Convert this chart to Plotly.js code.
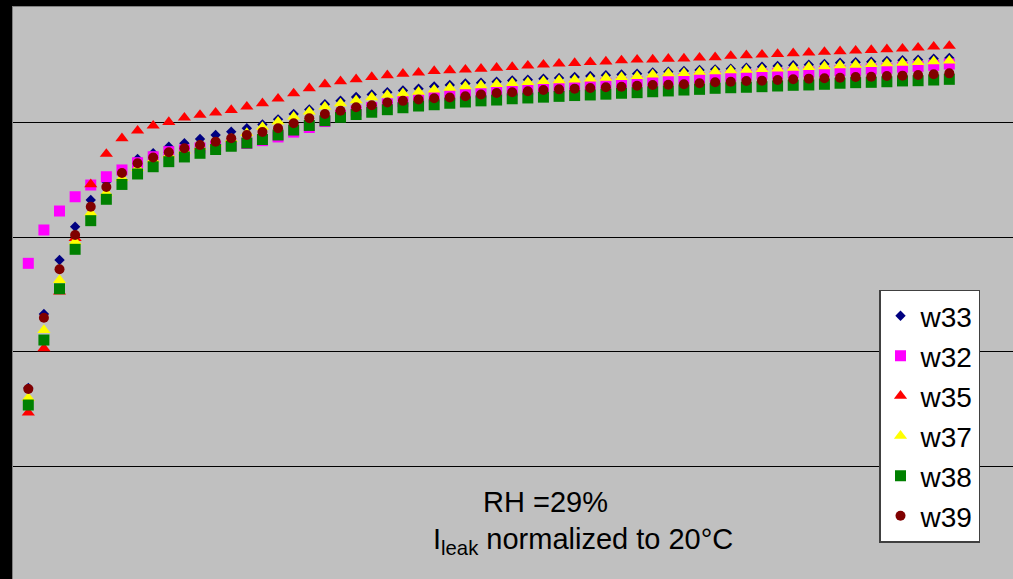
<!DOCTYPE html>
<html>
<head>
<meta charset="utf-8">
<script src="https://cdn.plot.ly/plotly-3.0.1.min.js"></script>
<style>
  html, body { margin: 0; padding: 0; background: #000; }
  #chart { width: 1013px; height: 579px; }
</style>
</head>
<body>
<div id="chart"></div>
<script>
// measurement index (x)
const xIdx = [1,2,3,4,5,6,7,8,9,10,11,12,13,14,15,16,17,18,19,20,
  21,22,23,24,25,26,27,28,29,30,31,32,33,34,35,36,37,38,39,40,
  41,42,43,44,45,46,47,48,49,50,51,52,53,54,55,56,57,58,59,60];

const w33 = [168.7,233.0,280.0,309.0,332.2,348.1,356.5,367.8,372.8,378.5,
  381.5,385.2,388.7,391.6,394.5,397.8,402.3,407.0,410.9,415.4,
  418.5,421.7,423.9,425.9,427.4,428.9,430.9,432.2,433.5,434.1,
  435.0,436.1,436.8,437.6,438.3,439.1,440.0,440.7,441.3,442.0,
  443.0,443.7,444.3,445.2,445.8,446.3,447.2,448.1,448.7,449.3,
  449.8,450.4,451.6,451.9,452.4,453.0,453.7,454.2,455.0,455.7];

const w32 = [277.1,306.1,322.6,335.0,345.2,352.4,358.3,364.6,369.8,374.2,
  375.7,377.4,379.1,380.0,381.3,383.8,387.0,391.2,395.2,400.4,
  405.7,409.6,412.6,415.7,417.8,420.0,421.7,423.0,425.0,425.5,
  426.3,427.2,428.4,429.3,430.7,431.3,432.2,433.7,434.2,435.0,
  435.9,437.0,437.8,438.7,439.4,440.0,440.9,441.7,442.3,442.9,
  443.5,444.1,444.8,445.2,446.1,446.7,447.6,448.4,449.3,450.4];

const w35 = [147.2,203.2,252.4,299.1,345.8,372.2,385.8,392.4,396.8,400.0,
  403.7,406.1,408.1,410.4,413.3,416.3,420.3,424.8,429.3,432.8,
  435.4,437.1,439.1,440.6,441.9,442.9,444.3,445.0,445.5,446.3,
  447.1,447.8,449.0,449.8,450.7,451.3,452.0,452.6,453.5,454.2,
  454.3,455.0,455.2,455.9,456.3,457.4,458.0,458.5,459.1,459.7,
  460.3,460.9,461.5,462.0,462.6,463.2,463.7,464.6,465.5,466.1];

const w37 = [160.0,219.1,262.6,295.9,320.9,338.3,351.3,360.0,367.4,371.7,
  375.2,378.3,381.3,385.2,390.4,395.7,400.3,404.6,409.0,413.3,
  416.1,418.9,421.5,423.5,425.0,426.3,428.1,429.7,431.0,431.9,
  432.9,433.9,434.6,435.5,436.3,436.8,437.7,438.4,439.1,439.8,
  441.3,442.2,442.6,443.5,444.1,444.8,445.4,445.9,446.5,447.1,
  447.8,448.4,449.3,449.7,450.3,450.9,451.5,452.0,452.8,453.3];

const w38 = [153.9,210.4,255.0,289.3,314.2,332.8,345.7,354.8,361.1,365.5,
  369.6,372.8,376.1,378.9,381.7,384.8,388.7,393.0,397.0,401.1,
  404.1,406.5,408.5,410.7,412.4,413.9,415.0,416.3,417.4,418.4,
  419.1,420.2,420.9,421.6,422.3,423.0,423.5,424.2,425.0,425.5,
  426.3,427.0,427.8,428.4,429.3,429.8,430.2,430.7,431.3,431.9,
  432.2,432.8,433.7,434.2,434.5,435.0,435.7,435.9,436.5,437.1];

const w39 = [167.8,229.8,271.9,301.7,326.3,343.5,355.7,364.1,369.1,373.7,
  377.1,380.0,382.9,385.8,388.7,391.3,394.5,398.9,403.2,407.0,
  409.8,412.8,414.5,417.0,418.4,419.5,420.6,421.3,422.4,423.9,
  425.2,425.9,426.7,427.8,428.4,429.0,429.6,430.2,430.7,431.5,
  432.2,432.4,432.8,433.7,434.5,435.0,435.7,435.9,436.5,437.1,
  437.7,438.0,438.5,439.1,439.4,440.0,440.3,440.9,441.5,442.3];

const seriesNames = ['w33','w32','w35','w37','w38','w39'];
const seriesData = [w33, w32, w35, w37, w38, w39];
const seriesColors = ['#000080','#FF00FF','#FF0000','#FFFF00','#008000','#800000'];
const seriesSymbols = ['diamond','square','triangle-up','triangle-up','square','circle'];
const seriesSizes = [8, 11, 11.5, 11.5, 11, 10];

const noteLine1 = 'RH =29%';
const noteLine2 = 'I<sub>leak</sub> normalized to 20°C';

const FONT = 'Liberation Sans, Arial, sans-serif';

const traces = seriesNames.map((name, i) => ({
  type: 'scatter',
  mode: 'markers',
  name: name,
  legendgroup: name,
  x: xIdx,
  y: seriesData[i],
  marker: {
    symbol: seriesSymbols[i],
    color: seriesColors[i],
    size: seriesSizes[i],
    line: { width: 0 }
  },
  hoverinfo: 'x+y+name'
}));

const layout = {
  width: 1013,
  height: 579,
  margin: { l: 13, r: 0, t: 7, b: 0, pad: 0 },
  paper_bgcolor: '#000000',
  plot_bgcolor: '#C0C0C0',
  font: { family: FONT, color: '#000000' },
  showlegend: true,
  xaxis: {
    range: [0.02, 64.08],
    showgrid: false,
    zeroline: false,
    showticklabels: false,
    ticks: '',
    side: 'top',
    showline: true,
    linecolor: '#808080',
    linewidth: 1
  },
  yaxis: {
    range: [2.6, 500],
    tick0: 0,
    dtick: 100,
    showgrid: true,
    gridcolor: '#000000',
    gridwidth: 1,
    zeroline: false,
    showticklabels: false,
    ticks: '',
    showline: true,
    linecolor: '#808080',
    linewidth: 1
  },
  legend: {
    x: 0.866,
    y: 0.506,
    xanchor: 'left',
    yanchor: 'top',
    bgcolor: '#FFFFFF',
    bordercolor: '#404040',
    borderwidth: 1.5,
    font: { family: FONT, size: 28, color: '#000000' },
    tracegroupgap: 0.6,
    traceorder: 'grouped',
    itemsizing: 'trace'
  },
  annotations: [
    {
      xref: 'paper', yref: 'paper',
      x: 0.532, y: 0.1346,
      xanchor: 'center', yanchor: 'middle',
      text: noteLine1,
      showarrow: false,
      font: { family: FONT, size: 29, color: '#000000' }
    },
    {
      xref: 'paper', yref: 'paper',
      x: 0.570, y: 0.066,
      xanchor: 'center', yanchor: 'middle',
      text: noteLine2,
      showarrow: false,
      font: { family: FONT, size: 29, color: '#000000' }
    }
  ]
};

Plotly.newPlot('chart', traces, layout, { displayModeBar: false, staticPlot: true });
</script>
</body>
</html>
